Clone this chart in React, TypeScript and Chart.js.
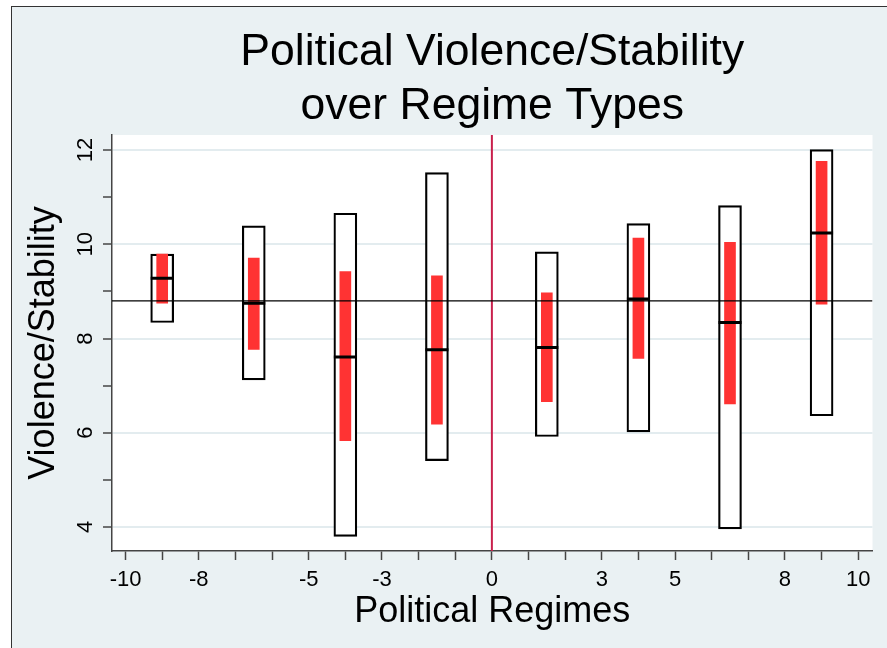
import React, { useEffect, useRef } from 'react';
import { Chart, registerables } from 'chart.js';

Chart.register(...registerables);

// Regime positions (x) and summary values (y)
const regimes = [-9, -6.5, -4, -1.5, 1.5, 4, 6.5, 9];
const boxLow = [8.34, 7.12, 3.8, 5.41, 5.92, 6.02, 3.96, 6.36];
const boxHigh = [9.79, 10.39, 10.66, 11.52, 9.84, 10.44, 10.82, 12.01];
const medians = [9.28, 8.75, 7.61, 7.76, 7.81, 8.84, 8.34, 10.24];
const redLow = [8.75, 7.77, 5.83, 6.18, 6.66, 7.58, 6.61, 8.73];
const redHigh = [9.79, 9.71, 9.42, 9.33, 8.97, 10.13, 10.04, 11.76];
const meanLevel = 8.8;
const zeroLine = 0;

const xMin = -10.37;
const xMax = 10.39;
const yMin = 3.49;
const yMax = 12.32;
const xTickLabels = [-10, -8, -5, -3, 0, 3, 5, 8, 10];
const yTickLabels = [4, 6, 8, 10, 12];

const FONT = '"Liberation Sans", Arial, sans-serif';

export default function App() {
  const ref = useRef<HTMLCanvasElement>(null);

  useEffect(() => {
    const canvas = ref.current;
    if (!canvas) return;
    const plotBg = {
      id: 'plotBg',
      beforeDraw(chart: any) {
        const { ctx, chartArea: a } = chart;
        ctx.save();
        ctx.fillStyle = '#ffffff';
        ctx.fillRect(a.left, a.top, a.right - a.left, a.bottom - a.top);
        ctx.restore();
      },
    };
    const chart = new Chart(canvas, {
      type: 'bar',
      data: {
        datasets: [
          {
            type: 'line',
            label: 'Median',
            data: regimes.map((x, i) => ({ x, y: medians[i] })),
            showLine: false,
            pointStyle: 'line',
            pointRadius: 11.5,
            pointHoverRadius: 11.5,
            pointBorderWidth: 3,
            pointBorderColor: '#000',
            order: 0,
          } as any,
          {
            type: 'line',
            label: 'Mean',
            data: [
              { x: xMin, y: meanLevel },
              { x: xMax, y: meanLevel },
            ],
            borderColor: '#000',
            borderWidth: 1.2,
            pointRadius: 0,
            order: 1,
          } as any,
          {
            type: 'bar',
            label: 'Inner',
            data: regimes.map((x, i) => ({ x, y: [redLow[i], redHigh[i]] })),
            backgroundColor: '#FF3333',
            borderWidth: 0,
            barThickness: 11,
            grouped: false,
            order: 2,
          } as any,
          {
            type: 'line',
            label: 'Zero',
            data: [
              { x: zeroLine, y: yMin },
              { x: zeroLine, y: yMax },
            ],
            borderColor: '#C9204C',
            borderWidth: 2,
            pointRadius: 0,
            order: 3,
          } as any,
          {
            type: 'bar',
            label: 'Range',
            data: regimes.map((x, i) => ({ x, y: [boxLow[i], boxHigh[i]] })),
            backgroundColor: '#ffffff',
            borderColor: '#000',
            borderWidth: 2.2,
            borderSkipped: false,
            barThickness: 23,
            grouped: false,
            order: 4,
          } as any,
        ],
      },
      options: {
        responsive: false,
        animation: false,
        devicePixelRatio: 1,
        layout: { padding: { top: 0, right: 13, bottom: 0, left: 0 } },
        plugins: {
          legend: { display: false },
          tooltip: { enabled: false },
          title: {
            display: true,
            text: ['Political Violence/Stability', 'over Regime Types'],
            fullSize: false,
            color: '#000',
            font: { family: FONT, size: 44.5, weight: 'normal', lineHeight: 1.2135 },
            padding: { top: 18.6, bottom: 1.4 },
          },
        },
        scales: {
          x: {
            type: 'linear',
            min: xMin,
            max: xMax,
            offset: false,
            border: { color: '#444', width: 1.5 },
            grid: {
              display: true,
              offset: false,
              drawOnChartArea: false,
              drawTicks: true,
              tickLength: 9,
              tickColor: '#444',
              tickWidth: 1.5,
            },
            ticks: {
              stepSize: 1,
              includeBounds: false,
              autoSkip: false,
              maxRotation: 0,
              minRotation: 0,
              padding: 7,
              color: '#000',
              font: { family: FONT, size: 22 },
              callback: (v: any) => (xTickLabels.includes(Number(v)) ? String(v) : ''),
            },
            title: {
              display: true,
              text: 'Political Regimes',
              color: '#000',
              font: { family: FONT, size: 36 },
              padding: { top: 0, bottom: 14 },
            },
            afterFit: (s: any) => {
              s.height = 97;
            },
          } as any,
          y: {
            type: 'linear',
            min: yMin,
            max: yMax,
            border: { color: '#444', width: 1.5 },
            grid: {
              color: (c: any) =>
                c.tick && yTickLabels.includes(c.tick.value) ? '#E3ECEF' : 'rgba(0,0,0,0)',
              lineWidth: 2,
              tickLength: 9,
              tickColor: '#444',
              tickWidth: 1.5,
            },
            ticks: {
              stepSize: 1,
              includeBounds: false,
              autoSkip: false,
              minRotation: 90,
              maxRotation: 90,
              crossAlign: 'center',
              padding: 5,
              color: '#000',
              font: { family: FONT, size: 22 },
              callback: (v: any) => (yTickLabels.includes(Number(v)) ? String(v) : ''),
            },
            title: {
              display: true,
              text: 'Violence/Stability',
              color: '#000',
              font: { family: FONT, size: 36 },
              padding: { top: 10, bottom: 0 },
            },
            afterFit: (s: any) => {
              s.width = 100;
            },
          } as any,
        },
      },
      plugins: [plotBg],
    } as any);
    return () => chart.destroy();
  }, []);

  return (
    <div
      style={{
        position: 'fixed',
        left: 11,
        top: 6,
        borderLeft: '1px solid #333',
        borderTop: '1px solid #333',
        background: '#EAF1F3',
      }}
    >
      <canvas ref={ref} width={875} height={641} style={{ display: 'block', width: 875, height: 641 }} />
    </div>
  );
}
